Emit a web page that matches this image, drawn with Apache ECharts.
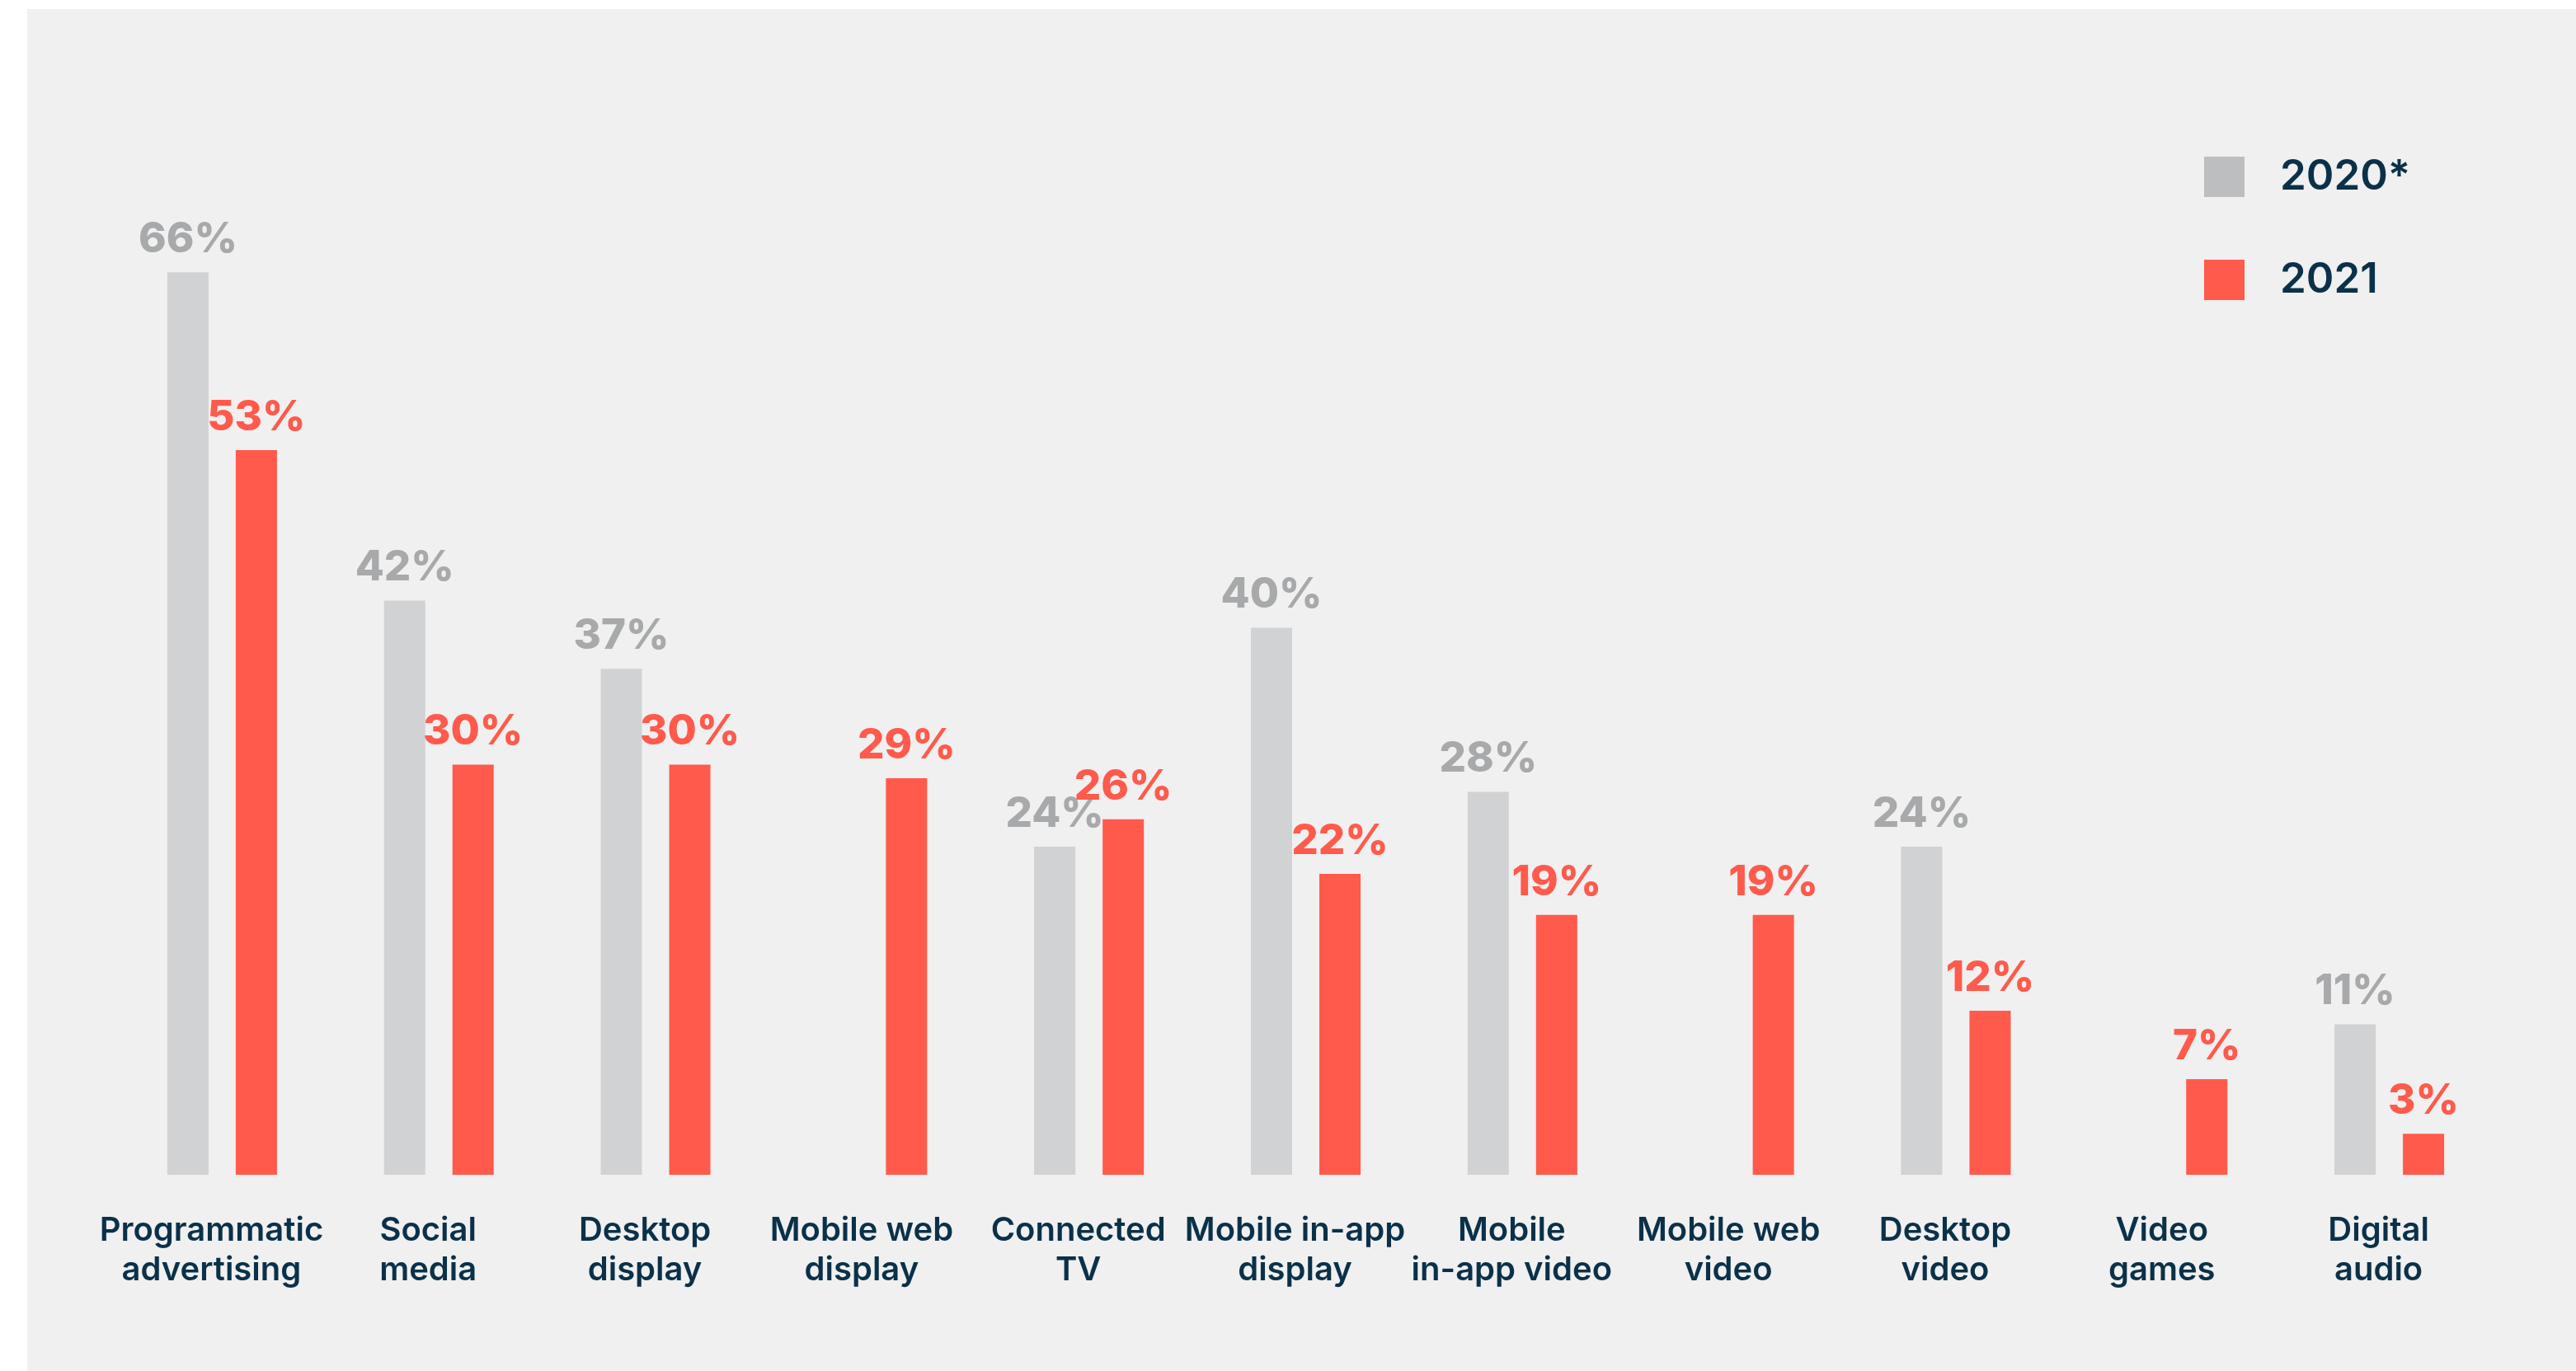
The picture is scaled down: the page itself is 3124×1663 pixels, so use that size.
<!DOCTYPE html>
<html>
<head>
<meta charset="utf-8">
<script src="https://cdn.jsdelivr.net/npm/echarts@6/dist/echarts.min.js"></script>
<style>
  html, body { margin: 0; padding: 0; background: #ffffff; }
  #panel { position: absolute; left: 33px; top: 11px; width: 3091px; height: 1652px; background: #eff0ef; }
  #chart { position: absolute; left: 0; top: 0; width: 3124px; height: 1663px; }
</style>
</head>
<body>
<div id="panel"></div>
<div id="chart"></div>
<script>
const categories = [
  'Programmatic\nadvertising', 'Social\nmedia', 'Desktop\ndisplay', 'Mobile web\ndisplay',
  'Connected\nTV', 'Mobile in-app\ndisplay', 'Mobile\nin-app video', 'Mobile web\nvideo',
  'Desktop\nvideo', 'Video\ngames', 'Digital\naudio'
];
const values2020 = [66, 42, 37, null, 24, 40, 28, null, 24, null, 11];
const values2021 = [53, 30, 30, 29, 26, 22, 19, 19, 12, 7, 3];
const seriesNames = ['2020*', '2021'];

const GRAY = '#d1d2d4', GRAY_LABEL = '#a8a9ab', GRAY_LEGEND = '#bdbec0';
const RED = '#ff5a4c';
const NAVY = '#0b3149';
const FONT = 'Inter, "Noto Sans", sans-serif';

const chart = echarts.init(document.getElementById('chart'), null, { renderer: 'canvas' });

const labelStyle = (color) => ({
  show: true,
  position: 'top',
  distance: 14,
  formatter: '{c}%',
  color: color,
  fontFamily: FONT,
  fontWeight: 800,
  fontSize: 51
});

chart.setOption({
  backgroundColor: 'transparent',
  animation: false,
  grid: { left: 138, right: 95, top: 264, bottom: 238, containLabel: false },
  legend: {
    orient: 'vertical',
    left: 2673,
    top: 189,
    padding: 0,
    itemWidth: 49,
    itemHeight: 49,
    itemGap: 74,
    icon: 'rect',
    selectedMode: false,
    data: [
      { name: seriesNames[0], itemStyle: { color: GRAY_LEGEND } },
      { name: seriesNames[1], itemStyle: { color: RED } }
    ],
    formatter: (name) => '{t|' + name + '}',
    textStyle: {
      rich: {
        t: { fontFamily: FONT, fontSize: 51, fontWeight: 600, color: NAVY, lineHeight: 49, padding: [0, 0, 0, 38] }
      }
    }
  },
  xAxis: {
    type: 'category',
    data: categories,
    axisLine: { show: false },
    axisTick: { show: false },
    axisLabel: {
      interval: 0,
      margin: 44,
      color: NAVY,
      fontFamily: FONT,
      fontSize: 40,
      fontWeight: 600,
      lineHeight: 48,
      padding: [0, 26, 0, 0]
    }
  },
  yAxis: {
    type: 'value',
    min: 0,
    max: 70,
    show: false,
    splitLine: { show: false }
  },
  series: [
    {
      name: seriesNames[0],
      type: 'bar',
      data: values2020,
      barWidth: 50,
      barGap: '66%',
      itemStyle: { color: GRAY },
      label: labelStyle(GRAY_LABEL)
    },
    {
      name: seriesNames[1],
      type: 'bar',
      data: values2021,
      barWidth: 50,
      barGap: '66%',
      itemStyle: { color: RED },
      label: labelStyle(RED)
    }
  ]
});
</script>
</body>
</html>
